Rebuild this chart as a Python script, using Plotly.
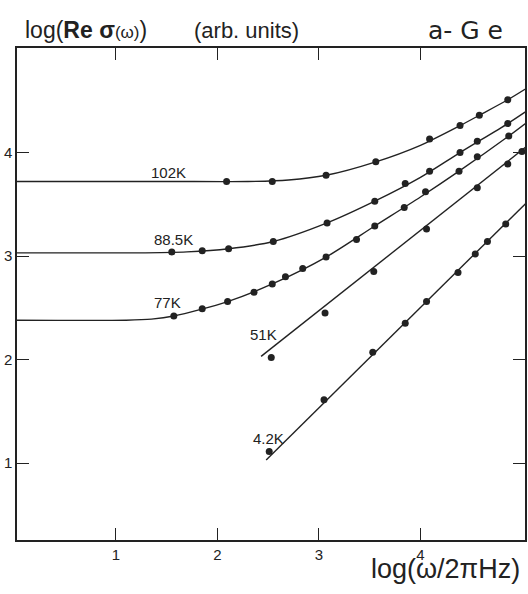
import plotly.graph_objects as go

# ---- data (log10 units) ----
# measured points
x102 = [2.09, 2.54, 3.07, 3.56, 4.09, 4.39, 4.58, 4.86]
y102 = [3.72, 3.72, 3.78, 3.91, 4.13, 4.26, 4.36, 4.51]

x885 = [1.55, 1.85, 2.11, 2.55, 3.08, 3.55, 3.85, 4.09, 4.39, 4.56, 4.86]
y885 = [3.04, 3.05, 3.07, 3.14, 3.32, 3.53, 3.70, 3.82, 4.00, 4.11, 4.28]

x77 = [1.57, 1.85, 2.10, 2.36, 2.54, 2.67, 2.84, 3.07, 3.37, 3.55, 3.84, 4.05, 4.38, 4.56, 4.87]
y77 = [2.42, 2.49, 2.56, 2.65, 2.73, 2.80, 2.88, 2.99, 3.16, 3.29, 3.47, 3.62, 3.82, 3.96, 4.16]

x51 = [2.53, 3.06, 3.54, 4.06, 4.56, 4.86, 5.00]
y51 = [2.02, 2.45, 2.85, 3.26, 3.66, 3.89, 4.01]

x42 = [2.51, 3.05, 3.53, 3.85, 4.06, 4.37, 4.54, 4.66, 4.84, 5.04]
y42 = [1.11, 1.61, 2.07, 2.35, 2.56, 2.84, 3.02, 3.14, 3.31, 3.51]

# fitted curves
cx102 = [0.0, 1.5, 2.3, 2.7, 3.07, 3.56, 4.0, 4.39, 4.58, 4.86, 5.06]
cy102 = [3.72, 3.72, 3.72, 3.735, 3.78, 3.91, 4.07, 4.26, 4.36, 4.51, 4.63]

cx885 = [0.0, 1.2, 1.7, 2.11, 2.55, 3.08, 3.55, 4.0, 4.39, 4.86, 5.06]
cy885 = [3.03, 3.03, 3.04, 3.07, 3.14, 3.32, 3.53, 3.76, 4.00, 4.28, 4.41]

cx77 = [0.0, 1.1, 1.35, 1.57, 2.1, 2.54, 3.07, 3.55, 4.0, 4.38, 4.87, 5.06]
cy77 = [2.38, 2.38, 2.39, 2.42, 2.56, 2.73, 2.99, 3.29, 3.57, 3.82, 4.16, 4.30]

cx51 = [2.43, 5.06]
cy51 = [2.03, 4.07]

cx42 = [2.48, 5.06]
cy42 = [1.03, 3.53]

labels = ["102K", "88.5K", "77K", "51K", "4.2K"]
label_x = [1.52, 1.57, 1.51, 2.45, 2.50]
label_y = [3.81, 3.16, 2.55, 2.24, 1.24]

xticks = [1, 2, 3, 4]
yticks = [1, 2, 3, 4]

INK = "#222222"
fig = go.Figure()

curves = [(cx102, cy102), (cx885, cy885), (cx77, cy77), (cx51, cy51), (cx42, cy42)]
for cx, cy in curves:
    fig.add_trace(go.Scatter(x=cx, y=cy, mode="lines",
                             line=dict(color=INK, width=1.4, shape="spline", smoothing=0.8),
                             hoverinfo="skip", showlegend=False))

for px, py in [(x102, y102), (x885, y885), (x77, y77), (x51, y51), (x42, y42)]:
    fig.add_trace(go.Scatter(x=px, y=py, mode="markers",
                             marker=dict(color=INK, size=7),
                             cliponaxis=False, showlegend=False))

for t, lx, ly in zip(labels, label_x, label_y):
    fig.add_annotation(x=lx, y=ly, text=t, showarrow=False,
                       font=dict(family="Liberation Sans, Arial", size=15, color=INK))

axis_common = dict(showgrid=False, zeroline=False, showline=True, mirror="ticks",
                   linecolor=INK, linewidth=1.5, ticks="inside", ticklen=12,
                   tickwidth=1.4, tickcolor=INK, automargin=False,
                   tickfont=dict(family="Liberation Sans, Arial", size=15, color=INK))

fig.update_xaxes(range=[0.025, 5.03], tickvals=xticks, ticktext=[str(v) for v in xticks],
                 **axis_common)
fig.update_yaxes(range=[0.256, 5.01], tickvals=yticks, ticktext=[str(v) for v in yticks],
                 ticklabelstandoff=0, **axis_common)

fig.add_annotation(xref="paper", yref="paper", x=0.012, y=1.036, xanchor="left", yanchor="middle",
                   text="log(<b>Re σ</b><span style='font-size:17px'>(ω)</span>)", showarrow=False,
                   font=dict(family="Liberation Sans, Arial", size=23, color=INK))
fig.add_annotation(xref="paper", yref="paper", x=0.3445, y=1.036, xanchor="left", yanchor="middle",
                   text="(arb. units)", showarrow=False,
                   font=dict(family="Liberation Sans, Arial", size=22, color=INK))
fig.add_annotation(xref="paper", yref="paper", x=0.882, y=1.036, xanchor="center", yanchor="middle",
                   text="a- G e", showarrow=False,
                   font=dict(family="DejaVu Sans", size=25, color=INK))
fig.add_annotation(xref="paper", yref="paper", x=0.843, y=-0.058, xanchor="center", yanchor="middle",
                   text="log(ω/2πHz)", showarrow=False,
                   font=dict(family="Liberation Sans, Arial", size=27, color=INK))

fig.update_layout(width=528, height=594, margin=dict(l=17, r=3, t=48, b=54, autoexpand=False),
                  paper_bgcolor="white", plot_bgcolor="white", showlegend=False)

fig.write_html("out.html", config={"displayModeBar": False},
               post_script="document.body.style.margin='0';")
